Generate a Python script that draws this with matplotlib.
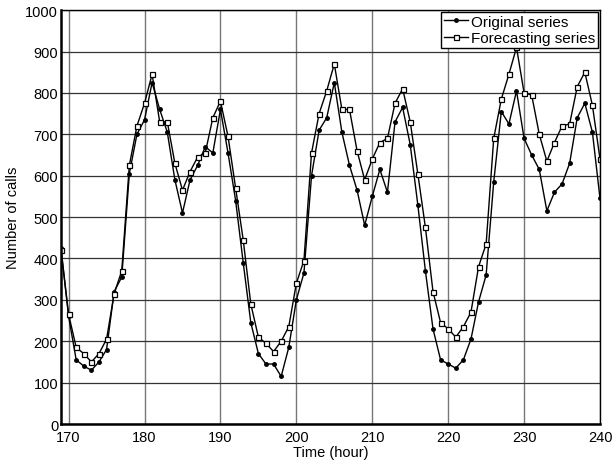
import matplotlib
matplotlib.use("Agg")
import matplotlib.pyplot as plt

plt.rcParams["font.family"] = ["Liberation Sans", "DejaVu Sans"]

hours = list(range(169, 241))

original = [425, 260, 155, 140, 130, 150, 180, 320, 355, 605,
            700, 735, 825, 760, 705, 590, 510, 590, 625, 670,
            655, 760, 655, 540, 390, 245, 170, 145, 145, 115,
            185, 300, 365, 600, 710, 740, 825, 705, 625, 565,
            480, 550, 615, 560, 730, 765, 675, 530, 370, 230,
            155, 145, 135, 155, 205, 295, 360, 585, 755, 725,
            805, 690, 650, 615, 515, 560, 580, 630, 740, 775,
            705, 545]

forecast = [420, 265, 185, 170, 150, 170, 205, 315, 370, 625,
            720, 775, 845, 730, 730, 630, 565, 610, 645, 655,
            740, 780, 695, 570, 445, 290, 210, 195, 175, 200,
            235, 340, 395, 655, 750, 805, 870, 760, 760, 660,
            590, 640, 680, 690, 775, 810, 730, 605, 475, 320,
            245, 230, 210, 235, 270, 380, 435, 690, 785, 845,
            910, 800, 795, 700, 635, 680, 720, 725, 815, 850,
            770, 640]

fig = plt.figure(figsize=(6.12, 4.64), dpi=100)
ax = fig.add_axes([0.0997, 0.084, 0.8807, 0.892])

ax.plot(hours, original, "-", color="black", lw=1.0, marker="o", ms=2.5,
        label="Original series")
ax.plot(hours, forecast, "-", color="black", lw=1.0, marker="s", ms=3.6,
        mfc="white", mec="black", mew=0.9, label="Forecasting series")

ax.set_xlim(169, 240)
ax.set_ylim(0, 1000)
ax.set_xticks(range(170, 241, 10))
ax.set_yticks(range(0, 1001, 100))
ax.yaxis.grid(True, color="#333333", lw=0.9)
ax.xaxis.grid(True, color="#777777", lw=1.0)
ax.tick_params(length=0, labelsize=10.5)
ax.tick_params(axis="x", pad=4)
ax.tick_params(axis="y", pad=2)
for s in ax.spines.values():
    s.set_linewidth(1.0)
ax.spines["left"].set_linewidth(1.8)
ax.spines["bottom"].set_linewidth(1.8)

ax.set_xlabel("Time (hour)", fontsize=10.5, labelpad=1)
ax.set_ylabel("Number of calls", fontsize=10.5, labelpad=4)

leg = ax.legend(loc="upper right", fontsize=11, fancybox=False,
                edgecolor="black", framealpha=1, borderpad=0.2,
                handlelength=1.6, handletextpad=0.2, labelspacing=0.15,
                borderaxespad=0.1)
leg.get_frame().set_linewidth(1.0)

fig.savefig("out.png", dpi=100)
